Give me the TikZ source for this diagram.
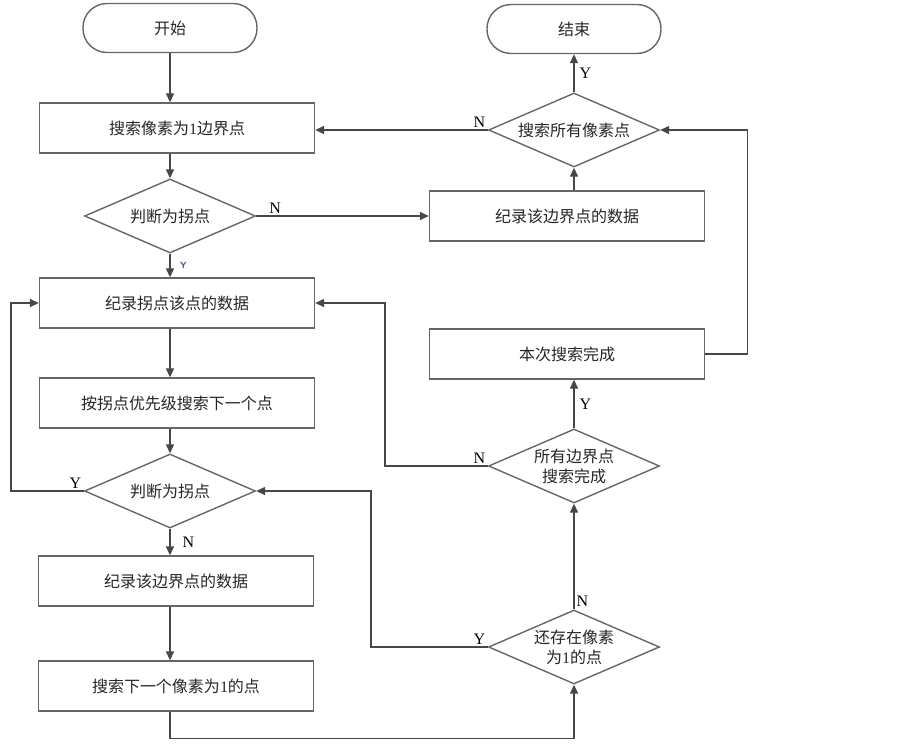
\documentclass[tikz,border=0pt]{standalone}
\usepackage{fontspec}
\setmainfont{Liberation Serif}
\newfontfamily\cjk{Noto Sans CJK SC}
\usetikzlibrary{arrows.meta,shapes.geometric,positioning}

\begin{document}
\begin{tikzpicture}[
		x=1pt, y=-1pt,
		font=\cjk\fontsize{16}{20}\selectfont,
		line/.style={draw=black!72, line width=1.4pt},
		arrow/.style={line, -{Triangle[length=9pt,width=8pt]}},
		procbox/.style={draw=black!60, line width=1.4pt, text=black!85,
				minimum width=275pt, minimum height=50pt, inner sep=0pt},
		termbox/.style={procbox, rounded corners=24pt,
				minimum width=174pt, minimum height=49pt},
		decision/.style={diamond, aspect=2.31, draw=black!60, line width=1.4pt, text=black!85,
				minimum width=171pt, minimum height=74pt, inner sep=0pt, align=center},
		yn/.style={font=\rmfamily\fontsize{16}{17}\selectfont, text=black, inner sep=2pt},
		ynsmall/.style={font=\sffamily\bfseries\fontsize{9}{10}\selectfont, text=blue!40!black!70}
	]
	\useasboundingbox (0,0) rectangle (903,744);

	% left column
	\node[termbox] (start) at (170,28) {开始};
	\node[procbox] (search) at (177,128) {搜索像素为{\rmfamily 1}边界点};
	\node[decision] (turn1) at (170,216) {判断为拐点};
	\node[procbox] (rectp) at (177,303) {纪录拐点该点的数据};
	\node[procbox] (prio) at (177,403) {按拐点优先级搜索下一个点};
	\node[decision] (turn2) at (170,491) {判断为拐点};
	\node[procbox] (rec2) at (176,581) {纪录该边界点的数据};
	\node[procbox] (next) at (176,686) {搜索下一个像素为{\rmfamily 1}的点};

	% right column
	\node[termbox] (finish) at (574,29) {结束};
	\node[decision] (all) at (574,130) {搜索所有像素点};
	\node[procbox] (rec1) at (567,216) {纪录该边界点的数据};
	\node[procbox] (done) at (567,354) {本次搜索完成};
	\node[decision] (edges) at (574,466) {所有边界点\\搜索完成};
	\node[decision] (remain) at (574,647) {还存在像素\\为{\rmfamily 1}的点};

	% connectors
	\draw[arrow] (start.south) -- (start.south |- search.north);
	\draw[arrow] (search.south -| turn1.north) -- (turn1.north);
	\draw[arrow] (turn1.east) -- node[yn, above, pos=0.11]{N} (turn1.east -| rec1.west);
	\draw[arrow] (turn1.south) -- node[ynsmall, right=6pt]{Y} (turn1.south |- rectp.north);
	\draw[arrow] (rec1.north -| all.south) -- (all.south);
	\draw[arrow] (all.north) -- node[yn, right=3pt]{Y} (finish.south);
	\draw[arrow] (all.west) -- node[yn, pos=0, above left]{N} (all.west -| search.east);
	\draw[arrow] (done.east) -- ++(42,0) |- (all.east);
	\draw[arrow] (rectp.south -| turn2.north) -- (prio.north -| turn2.north);
	\draw[arrow] (prio.south -| turn2.north) -- (turn2.north);
	\draw[arrow] (turn2.west) -- node[yn, pos=0, above left]{Y} ++(-73,0) |- (rectp.west);
	\draw[arrow] (turn2.south) -- node[yn, right=10pt]{N} (turn2.south |- rec2.north);
	\draw[arrow] (rec2.south -| turn2.south) -- (next.north -| turn2.south);
	\draw[arrow] (next.south -| turn2.south) -- ++(0,27) -| (remain.south);
	\draw[arrow] (remain.north) -- node[yn, pos=0, above right]{N} (edges.south);
	\draw[arrow] (edges.north) -- node[yn, right=3pt]{Y} (edges.north |- done.south);
	\draw[arrow] (edges.west) -- node[yn, pos=0, above left]{N} ++(-103,0) |- (rectp.east);
	\draw[arrow] (remain.west) -- node[yn, pos=0, above left]{Y} ++(-117,0) |- (turn2.east);
\end{tikzpicture}
\end{document}
